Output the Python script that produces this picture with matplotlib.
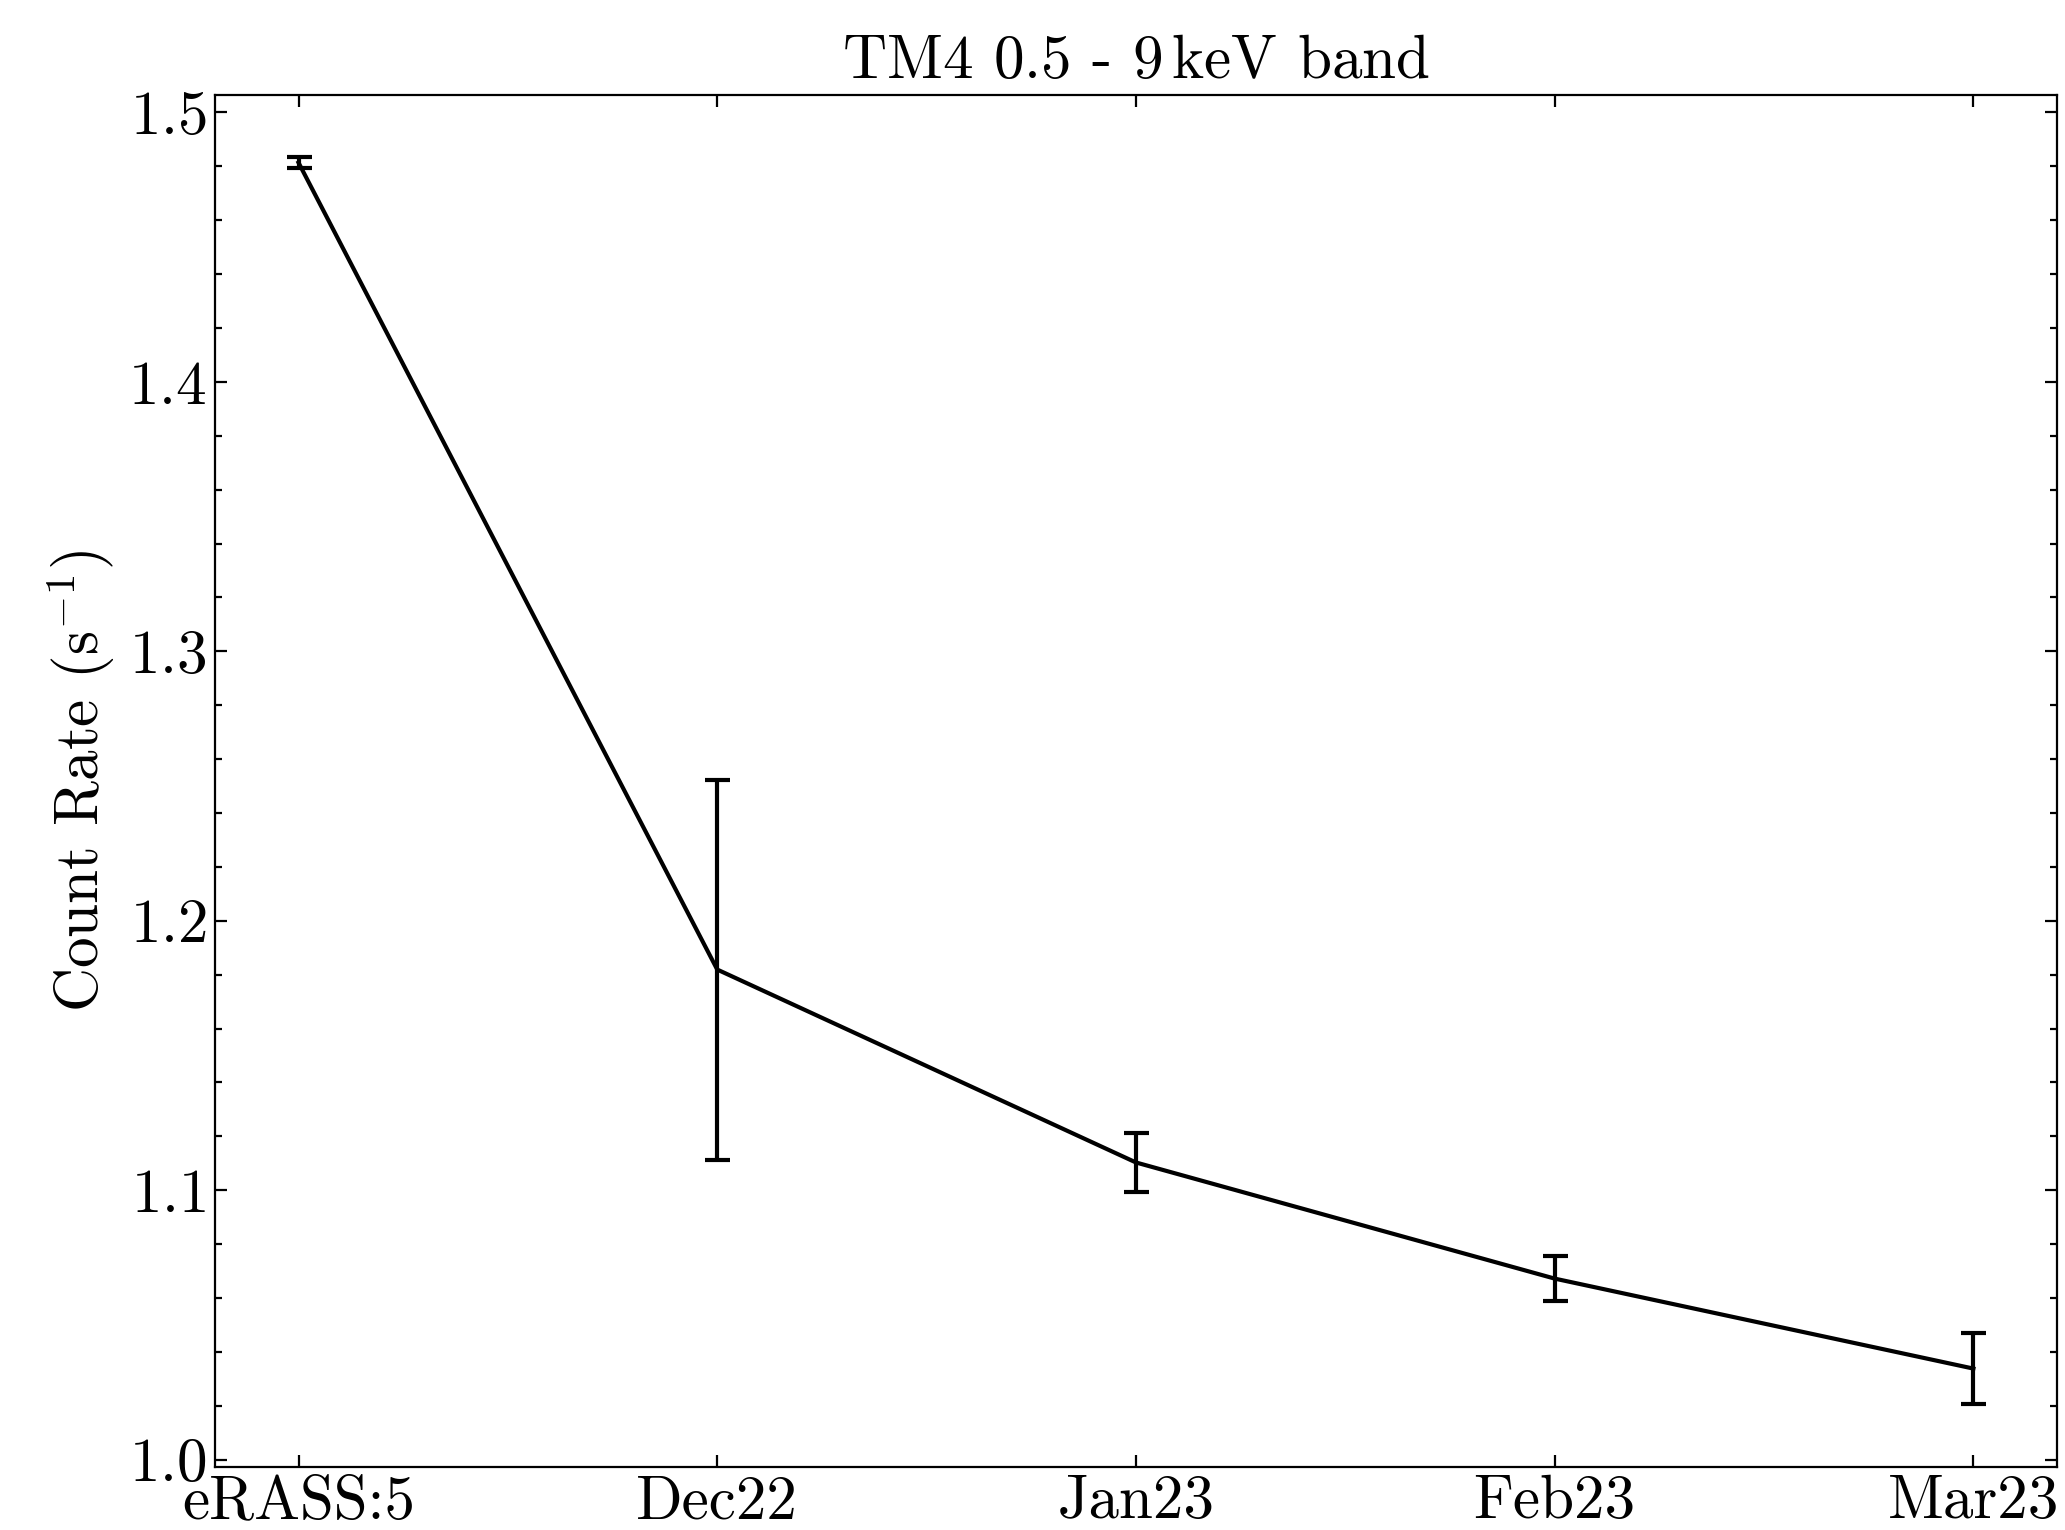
import numpy as np
import matplotlib
matplotlib.use("Agg")
import matplotlib.pyplot as plt
from matplotlib.ticker import MultipleLocator

plt.rcParams['font.family'] = ['cmr10', 'DejaVu Serif']
plt.rcParams['mathtext.fontset'] = 'cm'
plt.rcParams['axes.unicode_minus'] = False
plt.rcParams['axes.formatter.use_mathtext'] = True

labels = ['eRASS:5', 'Dec22', 'Jan23', 'Feb23', 'Mar23']
rate = [1.4814, 1.1819, 1.1103, 1.0672, 1.0338]
rate_err = [0.0020, 0.0705, 0.0108, 0.0083, 0.0132]

fig = plt.figure(figsize=(10.325, 7.65), dpi=200)
ax = fig.add_axes([0.104, 0.0415, 0.8922, 0.8965])

x = np.arange(len(labels))
ax.errorbar(x, rate, yerr=rate_err, color='k', lw=1.5,
            capsize=4.5, capthick=1.5, elinewidth=1.5)

ax.set_xticks(x)
ax.set_xticklabels(labels)
ax.yaxis.set_major_locator(MultipleLocator(0.1))
ax.yaxis.set_minor_locator(MultipleLocator(0.02))
ax.tick_params(which='both', direction='in', top=True, right=True, labelsize=22, width=0.8)
ax.tick_params(which='major', length=4.3, pad=3)
ax.tick_params(which='minor', length=2.5)
ax.tick_params(axis='x', which='minor', bottom=False, top=False)
for s in ax.spines.values():
    s.set_linewidth(0.8)

ax.set_ylabel(r'Count Rate (s$^{-1}$)', fontsize=22)
ax.set_title(r'TM4 0.5 - 9$\,$keV band', fontsize=22)

fig.savefig('out.png', dpi=200)
